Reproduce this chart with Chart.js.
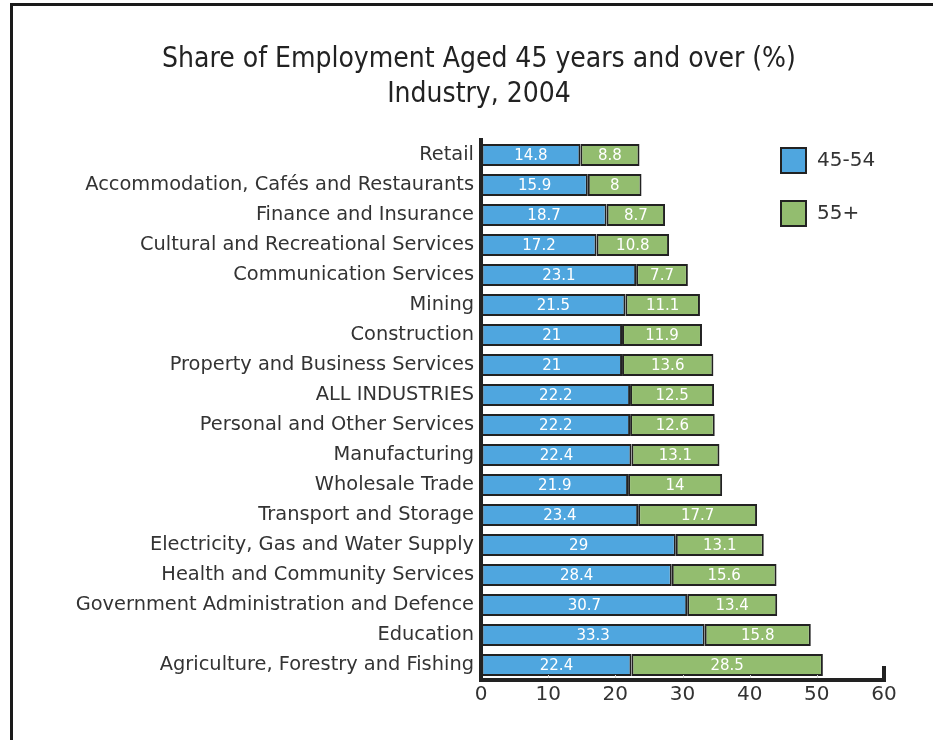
<!DOCTYPE html>
<html>
<head>
  <meta charset="utf-8">
  <title>Share of Employment Aged 45 years and over</title>
  <script src="https://cdn.jsdelivr.net/npm/chart.js"></script>
  <style>
    body { margin: 0; background: #fff; }
    #wrap { position: relative; width: 933px; height: 740px; overflow: hidden; }
    #frame { position: absolute; left: 10px; top: 3px; width: 1000px; height: 800px;
             border-top: 3px solid #1a1a1a; border-left: 3px solid #1a1a1a; }
    #chart { position: absolute; left: 0; top: 0; }
  </style>
</head>
<body>
  <div id="wrap">
    <div id="frame"></div>
    <canvas id="chart" width="933" height="740"></canvas>
  </div>

  <script>
    // datos
    const industries = [
      'Retail',
      'Accommodation, Cafés and Restaurants',
      'Finance and Insurance',
      'Cultural and Recreational Services',
      'Communication Services',
      'Mining',
      'Construction',
      'Property and Business Services',
      'ALL INDUSTRIES',
      'Personal and Other Services',
      'Manufacturing',
      'Wholesale Trade',
      'Transport and Storage',
      'Electricity, Gas and Water Supply',
      'Health and Community Services',
      'Government Administration and Defence',
      'Education',
      'Agriculture, Forestry and Fishing'
    ];
    const aged45to54 = [14.8, 15.9, 18.7, 17.2, 23.1, 21.5, 21, 21, 22.2, 22.2, 22.4, 21.9, 23.4, 29, 28.4, 30.7, 33.3, 22.4];
    const aged55plus = [8.8, 8, 8.7, 10.8, 7.7, 11.1, 11.9, 13.6, 12.5, 12.6, 13.1, 14, 17.7, 13.1, 15.6, 13.4, 15.8, 28.5];
    const xTicks = [0, 10, 20, 30, 40, 50, 60];

    const labelFont = '"DejaVu Sans", sans-serif';

    // etiquetas blancas dentro de cada segmento
    const barLabels = {
      id: 'barLabels',
      afterDatasetsDraw(chart) {
        const ctx = chart.ctx;
        ctx.save();
        ctx.fillStyle = '#ffffff';
        ctx.font = '15px ' + labelFont;
        ctx.textAlign = 'center';
        ctx.textBaseline = 'middle';
        chart.data.datasets.forEach((ds, i) => {
          chart.getDatasetMeta(i).data.forEach((bar, j) => {
            ctx.fillText(String(ds.data[j]), (bar.x + bar.base) / 2, bar.y + 1);
          });
        });
        ctx.restore();
      }
    };

    // leyenda a la derecha y marca del eje en 60
    const extras = {
      id: 'extras',
      afterDraw(chart) {
        const ctx = chart.ctx;
        const xs = chart.scales.x;
        const area = chart.chartArea;
        ctx.save();
        // marcas pequeñas del eje
        ctx.strokeStyle = '#d8d8d8';
        ctx.lineWidth = 1;
        xTicks.slice(1, -1).forEach((v) => {
          const px = Math.round(xs.getPixelForValue(v)) + 0.5;
          ctx.beginPath();
          ctx.moveTo(px, area.bottom - 5);
          ctx.lineTo(px, area.bottom - 2);
          ctx.stroke();
        });
        // marca en 60
        const p60 = xs.getPixelForValue(60);
        ctx.strokeStyle = '#222';
        ctx.lineWidth = 4;
        ctx.beginPath();
        ctx.moveTo(p60, area.bottom + 2);
        ctx.lineTo(p60, area.bottom - 14);
        ctx.stroke();
        // leyenda
        ctx.font = '20px ' + labelFont;
        ctx.textBaseline = 'middle';
        ctx.textAlign = 'left';
        chart.data.datasets.forEach((ds, i) => {
          const y = 148 + i * 53;
          ctx.fillStyle = ds.backgroundColor;
          ctx.fillRect(781, y, 25, 25);
          ctx.strokeStyle = '#222';
          ctx.lineWidth = 2;
          ctx.strokeRect(781, y, 25, 25);
          ctx.fillStyle = '#333';
          ctx.fillText(ds.label, 817, y + 13);
        });
        ctx.restore();
      }
    };

    const ctx = document.getElementById('chart').getContext('2d');
    const chart = new Chart(ctx, {
      type: 'bar',
      data: {
        labels: industries,
        datasets: [
          {
            label: '45-54',
            data: aged45to54,
            backgroundColor: '#4fa6df',
            borderColor: '#222',
            borderWidth: 2,
            borderSkipped: false
          },
          {
            label: '55+',
            data: aged55plus,
            backgroundColor: '#93bd6f',
            borderColor: '#222',
            borderWidth: 2,
            borderSkipped: false
          }
        ]
      },
      options: {
        indexAxis: 'y',
        responsive: false,
        animation: false,
        layout: { padding: { left: 74, right: 49, top: 0, bottom: 30 } },
        datasets: { bar: { categoryPercentage: 1, barPercentage: 0.74 } },
        plugins: {
          legend: { display: false },
          tooltip: { enabled: false },
          title: {
            display: true,
            text: ['Share of Employment Aged 45 years and over (%)', 'Industry, 2004'],
            color: '#222',
            font: { family: '"Liberation Sans Narrow", "DejaVu Sans Condensed", sans-serif', size: 28, weight: 'normal', lineHeight: 1.25 },
            padding: { top: 42, bottom: 28 }
          }
        },
        scales: {
          x: {
            stacked: true,
            min: 0,
            max: 60,
            afterFit(scale) { scale.height = 30; },
            afterBuildTicks(scale) { scale.ticks = xTicks.map((v) => ({ value: v })); },
            grid: { display: true, drawOnChartArea: false, drawTicks: false },
            border: { display: true, color: '#222', width: 4 },
            ticks: { color: '#333', padding: 3, font: { family: labelFont, size: 20 } }
          },
          y: {
            stacked: true,
            afterFit(scale) { scale.width = 407; },
            grid: { display: true, drawOnChartArea: false, drawTicks: false },
            border: { display: true, color: '#222', width: 4 },
            ticks: { color: '#333', padding: 7, font: { family: labelFont, size: 19.4 } }
          }
        }
      },
      plugins: [barLabels, extras]
    });
  </script>
</body>
</html>
